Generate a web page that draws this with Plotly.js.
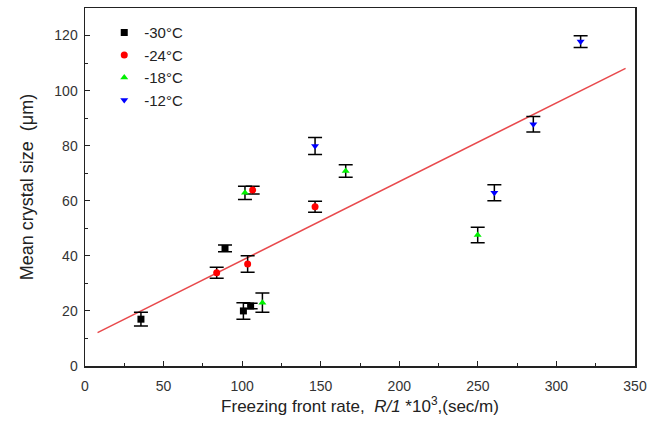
<!DOCTYPE html>
<html><head><meta charset="utf-8">
<script src="https://cdn.plot.ly/plotly-3.0.1.min.js"></script>
<style>body{margin:0;background:#fff}#c{width:660px;height:441px}</style>
</head><body><div id="c"></div>
<script>
// -30°C
const x30 = [35.6, 89.1, 100.8, 105.4];
const y30 = [17.0, 42.7, 20.0, 21.8];
const e30 = [2.5, 1.2, 3.0, 1.0];
// -24°C
const x24 = [83.8, 103.5, 106.7, 146.4];
const y24 = [33.9, 37.0, 63.9, 57.8];
const e24 = [2.0, 3.0, 1.4, 2.0];
// -18°C
const x18 = [101.8, 112.9, 165.9, 249.9];
const y18 = [62.9, 23.0, 70.8, 47.6];
const e18 = [2.4, 3.5, 2.3, 2.8];
// -12°C
const x12 = [146.4, 260.5, 285.3, 315.4];
const y12 = [79.9, 62.9, 87.8, 117.8];
const e12 = [3.1, 2.9, 2.8, 2.1];
// fit line
const fitX = [8, 344];
const fitY = [12.1, 108.1];

const names = ['-30\u00B0C', '-24\u00B0C', '-18\u00B0C', '-12\u00B0C'];

function series(x, y, e, name, color, symbol) {
  return {
    type: 'scatter', mode: 'markers', x: x, y: y, name: name,
    marker: {color: color, symbol: symbol, size: 7},
    error_y: {type: 'data', array: e, visible: true, color: '#000', thickness: 1.5, width: 7}
  };
}

const data = [
  {type: 'scatter', mode: 'lines', x: fitX, y: fitY, line: {color: '#e8494c', width: 1.5}, showlegend: false, hoverinfo: 'skip'},
  series(x30, y30, e30, names[0], '#000000', 'square'),
  series(x24, y24, e24, names[1], '#ff0000', 'circle'),
  series(x18, y18, e18, names[2], '#00f000', 'triangle-up'),
  series(x12, y12, e12, names[3], '#0000ff', 'triangle-down')
];

const fontFam = 'Liberation Sans, Arial, sans-serif';
const layout = {
  width: 660, height: 441,
  margin: {l: 85, r: 25, t: 8, b: 75},
  paper_bgcolor: '#fff', plot_bgcolor: '#fff',
  font: {family: fontFam, color: '#222'},
  showlegend: true,
  legend: {x: 0.035, y: 0.977, xanchor: 'left', yanchor: 'top', font: {size: 15, color: '#222'}, bgcolor: 'rgba(0,0,0,0)', itemwidth: 30, tracegroupgap: 0},
  xaxis: {
    range: [0, 350], showgrid: false, zeroline: false,
    showline: true, linecolor: '#222', linewidth: 1.5, mirror: true,
    ticks: 'inside', ticklen: 5, tickcolor: '#222', tickwidth: 1,
    tickvals: [0, 50, 100, 150, 200, 250, 300, 350],
    minor: {dtick: 25, ticks: 'inside', ticklen: 3, tickcolor: '#222'},
    tickfont: {size: 14, color: '#333'},
    ticklabelstandoff: 7,
    title: {text: 'Freezing front rate,  <i>R/1</i> *10<sup>3</sup>,(sec/m)', font: {size: 17, color: '#222'}, standoff: 4}
  },
  yaxis: {
    range: [0, 130], showgrid: false, zeroline: false,
    showline: true, linecolor: '#222', linewidth: 1.5, mirror: true,
    ticks: 'inside', ticklen: 5, tickcolor: '#222', tickwidth: 1,
    tickvals: [0, 20, 40, 60, 80, 100, 120],
    minor: {dtick: 10, ticks: 'inside', ticklen: 3, tickcolor: '#222'},
    tickfont: {size: 14, color: '#333'},
    ticklabelstandoff: 3,
    title: {text: 'Mean crystal size  (\u03BCm)', font: {size: 18, color: '#222'}, standoff: 16}
  }
};

Plotly.newPlot('c', data, layout, {displayModeBar: false, staticPlot: true});
</script></body></html>
